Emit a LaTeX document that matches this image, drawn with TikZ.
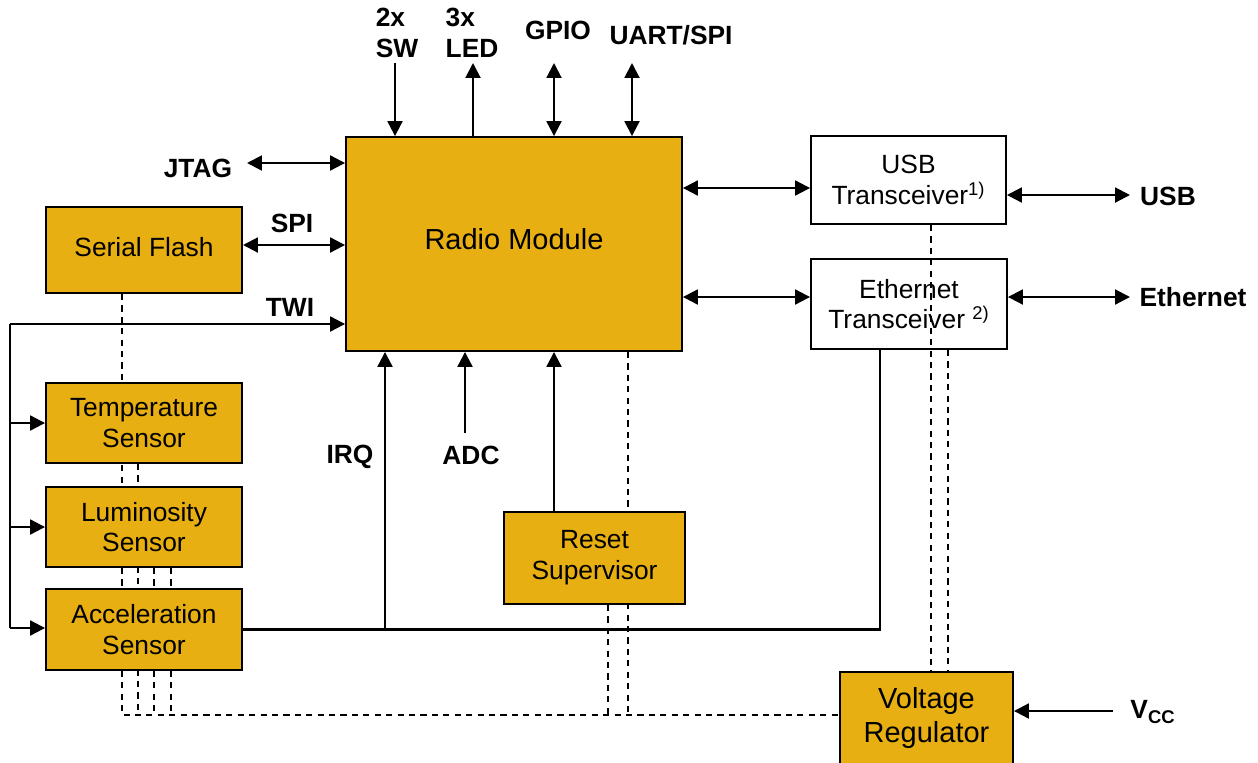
\documentclass[tikz,border=0pt]{standalone}
\usepackage{fontspec}
\setmainfont{Liberation Sans}
\usetikzlibrary{arrows.meta,calc,backgrounds}
\definecolor{gold}{RGB}{231,175,17}
\begin{document}
\begin{tikzpicture}[x=0.02cm,y=-0.02cm,
  box/.style={draw,line width=1.1pt,inner sep=0pt,align=center,font=\fontsize{15}{17.5}\selectfont},
  yb/.style={box,fill=gold},
  wb/.style={box},
  big/.style={font=\fontsize{16.5}{20}\selectfont},
  lbl/.style={font=\bfseries\fontsize{15}{17.5}\selectfont,align=center,inner sep=0pt},
  con/.style={line width=1.2pt},
  arr/.style={con,-{Triangle[length=8.5pt,width=8.5pt]}},
  darr/.style={con,{Triangle[length=8.5pt,width=8.5pt]}-{Triangle[length=8.5pt,width=8.5pt]}},
  dsh/.style={line width=0.9pt,dash pattern=on 3.5pt off 3pt}]
\useasboundingbox (0,0) rectangle (1258,762);
\clip (0,0) rectangle (1258,762);

% boxes
\node[yb,big,minimum width=6.72cm,minimum height=4.28cm] (radio) at (514,244) {\raisebox{6pt}{Radio Module}};
\node[yb,minimum width=3.92cm,minimum height=1.72cm] (flash) at (144,250) {\raisebox{4pt}{Serial Flash}};
\node[yb,minimum width=3.92cm,minimum height=1.6cm] (temp) at (144,423) {Temperature\\Sensor};
\node[yb,minimum width=3.92cm,minimum height=1.6cm] (lum) at (144,527) {Luminosity\\Sensor};
\node[yb,minimum width=3.92cm,minimum height=1.62cm] (acc) at (144,629.5) {Acceleration\\Sensor};
\node[yb,minimum width=3.62cm,minimum height=1.84cm] (reset) at (594.5,558) {Reset\\Supervisor};
\node[wb,minimum width=3.9cm,minimum height=1.76cm] (usb) at (908.5,180) {USB\\Transceiver\textsuperscript{1)}};
\node[wb,minimum width=3.92cm,minimum height=1.8cm] (eth) at (909,304) {Ethernet\\Transceiver \textsuperscript{2)}};
\node[yb,font=\fontsize{16.5}{20}\selectfont,minimum width=3.46cm,minimum height=1.84cm] (vr) at (926.5,718) {\raisebox{-1pt}{Voltage}\\Regulator};

% coordinates
\coordinate (bus) at (122,715);
\coordinate (d2) at (138,715);
\coordinate (d3) at (154,715);
\coordinate (d4) at (171,715);
\coordinate (d5) at (608,715);
\coordinate (d6) at (628,715);
\coordinate (u1) at (931,0);
\coordinate (u2) at (948,0);
\coordinate (e1) at (880,0);
\coordinate (irq) at (385,0);
\coordinate (adcb) at (465,433);
\coordinate (rst) at (554,0);
\coordinate (swt) at (395,63);
\coordinate (ledt) at (473,63);
\coordinate (gpiot) at (554,63);
\coordinate (uartt) at (632,63);
\coordinate (jtagl) at (247,163);
\coordinate (spil) at (243,245);
\coordinate (twil) at (10,324);
\coordinate (twib) at (10,628);
\coordinate (usbr) at (1130,195);
\coordinate (ethr) at (1130,297);
\coordinate (vccr) at (1113,711);

% dashed supply lines (behind boxes)
\begin{scope}[on background layer]
\draw[dsh] (flash.south -| bus) -- (bus) -- (bus -| vr.west);
\draw[dsh] (temp.south -| d2) -- (d2);
\draw[dsh] (lum.south -| d3) -- (d3);
\draw[dsh] (lum.south -| d4) -- (d4);
\draw[dsh] (reset.south -| d5) -- (d5);
\draw[dsh] (radio.south -| d6) -- (d6);
\draw[dsh] (usb.south -| u1) -- (vr.north -| u1);
\draw[dsh] (eth.south -| u2) -- (vr.north -| u2);
\end{scope}

% top signals
\node[lbl,align=left] (swl) at (397,33) {2x\\SW};
\node[lbl,align=left] (ledl) at (472,33) {3x\\LED};
\node[lbl] (gpiol) at (558,30) {GPIO};
\node[lbl] (uartl) at (671,35) {UART/SPI};
\draw[arr] (swt) -- (radio.north -| swt);
\draw[arr] (radio.north -| ledt) -- (ledt);
\draw[darr] (gpiot) -- (radio.north -| gpiot);
\draw[darr] (uartt) -- (radio.north -| uartt);

% left signals
\node[lbl] (jtag) at (198,168) {JTAG};
\draw[darr] (jtagl) -- (jtagl -| radio.west);
\node[lbl] (spi) at (292,223) {SPI};
\draw[darr] (spil) -- (spil -| radio.west);
\node[lbl] (twi) at (290,307) {TWI};
\draw[arr] (twil) -- (twil -| radio.west);
\draw[con] (twil) -- (twib);
\draw[arr] (twil |- temp.west) -- (temp.west);
\draw[arr] (twil |- lum.west) -- (lum.west);
\draw[arr] (twib) -- (twib -| acc.west);

% bottom signals
\draw[con] (acc.east) -| (eth.south -| e1);
\draw[arr] (acc.east -| irq) -- (radio.south -| irq);
\node[lbl] (irql) at (350,457) {IRQ};
\draw[arr] (adcb) -- (radio.south -| adcb);
\node[lbl] (adcl) at (471,455) {ADC};
\draw[arr] (reset.north -| rst) -- (radio.south -| rst);

% right signals
\draw[darr] (radio.east |- usb.west) ++(0,8) coordinate (ru) -- (ru -| usb.west);
\draw[darr] (radio.east |- eth.west) ++(0,-7) coordinate (re) -- (re -| eth.west);
\draw[darr] (usb.east |- usbr) -- (usbr);
\node[lbl] (usbl) at (1168,196) {USB};
\draw[darr] (eth.east |- ethr) -- (ethr);
\node[lbl] (ethl) at (1193,297) {Ethernet};
\draw[arr] (vccr) -- (vccr -| vr.east);
\node[lbl] (vcc) at (1153,712) {V\textsubscript{CC}};
\end{tikzpicture}
\end{document}
